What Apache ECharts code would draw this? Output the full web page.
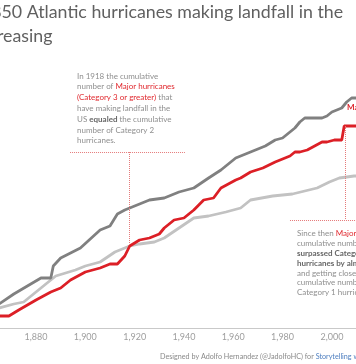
<!DOCTYPE html>
<html><head><meta charset="utf-8">
<script src="https://cdn.jsdelivr.net/npm/echarts@6/dist/echarts.min.js"></script>
<style>html,body{margin:0;padding:0;background:#fff;}#c{width:356px;height:364px;}</style>
</head><body><div id="c"></div>
<script>
// Cumulative counts of US landfalling Atlantic hurricanes
const cat1Years  = [1851, 1865, 1871, 1882, 1886, 1887, 1890, 1898, 1906, 1910, 1913, 1916, 1918, 1922, 1926, 1932, 1938, 1944, 1950, 1955, 1961, 1967, 1973, 1977, 1980, 1983, 1985, 1987, 1989, 1996, 1998, 2000, 2002, 2004, 2006, 2008, 2012];
const cat1Values = [1, 12, 17, 25, 25, 31, 35, 40, 49, 51, 57, 59, 60, 62, 64, 65, 68, 70, 75, 79, 85, 88, 91, 94, 95, 98, 100, 103, 105, 105, 106, 108, 109, 110, 113, 115, 115];

const cat2Years  = [1851, 1865, 1871, 1875, 1882, 1888, 1896, 1900, 1906, 1912, 1916, 1918, 1922, 1928, 1932, 1938, 1944, 1950, 1957, 1963, 1967, 1976, 1984, 1994, 1999, 2003, 2009, 2012];
const cat2Values = [2, 10, 12, 13, 20, 26, 29, 31, 33, 38, 40, 41, 42, 43, 45, 50, 55, 56, 58, 60, 64, 66, 67, 70, 73, 75, 76, 76];

const majorYears  = [1851, 1865, 1869, 1873, 1880, 1886, 1890, 1894, 1900, 1906, 1910, 1913, 1916, 1918, 1922, 1926, 1930, 1932, 1936, 1940, 1944, 1948, 1952, 1955, 1961, 1963, 1967, 1972, 1977, 1983, 1985, 1987, 1990, 1993, 1996, 1998, 2001, 2004, 2005, 2012];
const majorValues = [0, 6, 6, 9, 14, 18, 20, 24, 28, 30, 32, 32, 36, 41, 44, 45, 47, 50, 54, 55, 59, 64, 65, 70, 74, 75, 78, 80, 83, 86, 88, 88, 89, 91, 93, 93, 94, 94, 101, 101];

const titleLines = ['Since 1850 Atlantic hurricanes making landfall in the', 'US are increasing'];
const note1Lines = [
  '{g|In 1918 the cumulative}',
  '{g|number of }{r|Major hurricanes}',
  '{r|(Category 3 or greater)}{g| that}',
  '{g|have making landfall in the}',
  '{g|US }{b|equaled}{g| the cumulative}',
  '{g|number of Category 2}',
  '{g|hurricanes.}'
];
const note2Lines = [
  '{g|Since then }{r|Major hurricanes}',
  '{g|cumulative number has}',
  '{b|surpassed Category 2}',
  '{b|hurricanes by almost 30}',
  '{g|and getting closer to the}',
  '{g|cumulative number of}',
  '{g|Category 1 hurricanes.}'
];
const footerParts = ['Designed by Adolfo Hernandez (@JadolfoHC) for ', 'Storytelling with Data'];

const FONT = 'Lato, "Open Sans", sans-serif';
const zip = (xs, ys) => xs.map((x, i) => [x, ys[i]]);

function textWidth(str, font) {
  const c = document.createElement('canvas').getContext('2d');
  c.font = font;
  return c.measureText(str).width;
}
const titleSize = 17.8;
const titleFont = titleSize + 'px Lato';
const t1x = 1.5 - textWidth('Since 18', titleFont);
const t2x = -3 - textWidth('US are inc', titleFont);

const chart = echarts.init(document.getElementById('c'), null, {renderer: 'canvas'});
function mkRich(lh, fs) {
  return {
    g: {fill: '#8e8e8e', fontSize: fs, fontFamily: FONT, lineHeight: lh},
    r: {fill: '#e0282e', fontSize: fs, fontFamily: FONT, lineHeight: lh},
    b: {fill: '#666666', fontSize: fs, fontFamily: FONT, fontWeight: 'bold', lineHeight: lh}
  };
}

chart.setOption({
  animation: false,
  backgroundColor: '#ffffff',
  grid: {left: -62.6, width: 443.8, top: 28, bottom: 36, containLabel: false, outerBoundsMode: 'none'},
  xAxis: {
    type: 'value', min: 1840, max: 2020, interval: 20,
    axisLine: {show: true, lineStyle: {color: '#c9c9c9', width: 1}},
    axisTick: {show: false}, splitLine: {show: false},
    axisLabel: {color: '#9e9e9e', fontSize: 9, fontFamily: FONT, margin: 5}
  },
  yAxis: {type: 'value', min: 0, max: 150, show: false, splitLine: {show: false}},
  series: [
    {name: 'Category 2', type: 'line', data: zip(cat2Years, cat2Values), symbol: 'none',
     lineStyle: {color: '#c2c2c2', width: 2.8}, z: 2},
    {name: 'Category 1', type: 'line', data: zip(cat1Years, cat1Values), symbol: 'none',
     lineStyle: {color: '#808080', width: 2.8}, z: 3},
    {name: 'Major', type: 'line', data: zip(majorYears, majorValues), symbol: 'none',
     lineStyle: {color: '#dc1f26', width: 2.8}, z: 4,
     markLine: {
       silent: true, symbol: 'none', label: {show: false},
       lineStyle: {type: 'dotted', color: '#e57a7a', width: 1},
       data: [
         [{coord: [1893.8, 88]}, {coord: [1940.4, 88]}],
         [{coord: [1918, 88]}, {coord: [1918, 41]}],
         [{coord: [1983, 54]}, {coord: [2020, 54]}],
         [{coord: [2005.3, 101]}, {coord: [2005.3, 54]}]
       ]
     }}
  ],
  graphic: [
    {type: 'text', x: t1x, y: 12.5, style: {text: titleLines[0], font: titleFont, fill: '#606060', textVerticalAlign: 'middle'}},
    {type: 'text', x: t2x, y: 36, style: {text: titleLines[1], font: titleFont, fill: '#606060', textVerticalAlign: 'middle'}},
    {type: 'text', x: 77, y: 70.6, style: {text: note1Lines.join('\n'), rich: mkRich(10.8, 8), textVerticalAlign: 'top'}},
    {type: 'text', x: 297, y: 229, style: {text: note2Lines.join('\n'), rich: mkRich(9.8, 8), textVerticalAlign: 'top'}},
    {type: 'text', x: 347, y: 107, style: {text: 'Major hurricanes', fill: '#dc1f26', font: 'bold 8px Lato', textVerticalAlign: 'middle'}},
    {type: 'text', x: 160, y: 357, style: {text: '{g|' + footerParts[0] + '}{l|' + footerParts[1] + '}',
      rich: {g: {fill: '#8a8a8a', fontSize: 7.2, fontFamily: FONT}, l: {fill: '#4e7fc0', fontSize: 7.2, fontFamily: FONT}},
      textVerticalAlign: 'middle'}}
  ]
});
</script>
</body></html>
